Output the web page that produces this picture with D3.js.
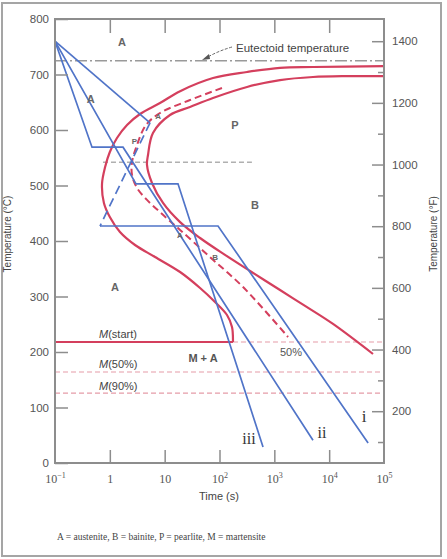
<!DOCTYPE html>
<html><head><meta charset="utf-8">
<script src="https://cdn.jsdelivr.net/npm/d3@7"></script>
<style>body{margin:0;background:#fff}svg{display:block}</style>
</head><body>
<script>
// ---- data ----
const timeTicks = [0.1, 1, 10, 100, 1000, 10000, 100000];
const timeTickLabels = [["10","−1"],["1",""],["10",""],["10","2"],["10","3"],["10","4"],["10","5"]];
const tempTicksC = [0,100,200,300,400,500,600,700,800];
const tempTicksF = [200,400,600,800,1000,1200,1400];
const tempMinorF = [100,300,500,700,900,1100,1300];
// [time (s), temperature (°C)]
const startCurve = [[100000,715],[5070,713.5],[1270,712],[318,704.5],[76.2,693.7],[19.1,670],[8.22,648.6],[3.55,628.8],[2.06,609],[1.35,585.6],[1.0,560.4],[0.82,533.3],[0.72,502.7],[0.78,468.5],[1.0,443.2],[1.53,416.2],[2.88,392.8],[6.67,371.2],[19.1,344.1],[44.2,315.3],[82.8,290.1],[137,266.7],[169,245],[176,218]];
const finishCurve = [[100000,697],[21100,697],[5070,695.5],[1270,690],[318,677.5],[76.2,657.7],[29,641.4],[12.5,627],[6.12,594.6],[4.97,555],[4.76,537],[5.87,504.5],[9.33,468.5],[19.1,434],[44.2,405.4],[126,375],[360,346],[1270,311.7],[3630,283],[11750,250.5],[63000,196.4]];
const halfCurve = [[111,675.7],[29,654],[8.22,630.6],[4.57,609],[3.13,573],[2.54,542],[2.54,519],[3.13,495.5],[4.76,474],[8.22,452],[19.1,420],[67.1,371],[269,317],[1780,227]];
const eutectoidT = 725;
const noseLine = {t0:0.75, t1:390, T:542};
const msStart = {T:218, tEnd:176};
const m50 = 164, m90 = 126;
const pathI = [[0.1,760],[5.41,613]];
const pathIDash = [[5.41,613],[0.662,427]];
const pathI2 = [[0.662,427],[94,427],[51300,36]];
const pathII = [[0.1,760],[0.473,569],[1.74,569],[5070,41]];
const pathIII = [[0.1,760],[3.0,503],[17.5,503],[622,29]];
const regionLabels = [
  {t:1.67,T:759,s:"A",f:11},{t:0.45,T:655,s:"A",f:11},{t:192,T:609,s:"P",f:11},
  {t:445,T:465,s:"B",f:11},{t:1.24,T:317,s:"A",f:11},
  {t:7.6,T:624,s:"A",f:8},{t:2.8,T:580,s:"P",f:8},{t:19,T:410,s:"A",f:8},{t:83,T:370,s:"B",f:8}
];

(function(){
const W=447,H=559, L=55, R=384, T0=19, B=463;
const svg = d3.select("body").append("svg").attr("width",W).attr("height",H)
  .style("font-family","'Liberation Sans',Arial,sans-serif");
const x = d3.scaleLog().domain([0.1,1e5]).range([L,R]);
const y = d3.scaleLinear().domain([0,800]).range([B,T0]);
const yF = d3.scaleLinear().domain([32,1472]).range([B,T0]);
const red="#d43f5d", blue="#5074c8", gray="#8d8d8d", pink="#e59ca8";

svg.append("rect").attr("x",2).attr("y",3).attr("width",439).attr("height",553)
  .attr("fill","none").attr("stroke","#a5a5a5").attr("stroke-width",2);

const line = d3.line().x(d=>x(d[0])).y(d=>y(d[1]));
const smooth = d3.line().x(d=>x(d[0])).y(d=>y(d[1])).curve(d3.curveCatmullRom.alpha(0.5));

svg.append("line").attr("x1",L).attr("x2",R).attr("y1",y(eutectoidT)).attr("y2",y(eutectoidT))
  .attr("stroke","#9a9a9a").attr("stroke-width",1.5).attr("stroke-dasharray","12,3,2,3");
svg.append("line").attr("x1",x(noseLine.t0)).attr("x2",x(noseLine.t1)).attr("y1",y(noseLine.T)).attr("y2",y(noseLine.T))
  .attr("stroke","#b0b0b0").attr("stroke-width",1.5).attr("stroke-dasharray","5,3");
svg.append("line").attr("x1",x(msStart.tEnd)).attr("x2",R).attr("y1",y(msStart.T)).attr("y2",y(msStart.T))
  .attr("stroke",pink).attr("stroke-width",1.2).attr("stroke-dasharray","5,3");
[m50,m90].forEach(v=>svg.append("line").attr("x1",L).attr("x2",R).attr("y1",y(v)).attr("y2",y(v))
  .attr("stroke",pink).attr("stroke-width",1.2).attr("stroke-dasharray","5,3"));

svg.append("path").attr("d",smooth(startCurve)).attr("fill","none").attr("stroke",red).attr("stroke-width",2.2);
svg.append("path").attr("d",smooth(finishCurve)).attr("fill","none").attr("stroke",red).attr("stroke-width",2.2);
svg.append("path").attr("d",smooth(halfCurve)).attr("fill","none").attr("stroke",red).attr("stroke-width",2).attr("stroke-dasharray","7,4");
svg.append("line").attr("x1",L).attr("x2",x(msStart.tEnd)).attr("y1",y(msStart.T)).attr("y2",y(msStart.T))
  .attr("stroke",red).attr("stroke-width",2.2);

[pathI,pathI2,pathII,pathIII].forEach(p=>svg.append("path").attr("d",line(p)).attr("fill","none")
  .attr("stroke",blue).attr("stroke-width",1.7).attr("stroke-linejoin","miter"));
svg.append("path").attr("d",line(pathIDash)).attr("fill","none").attr("stroke",blue)
  .attr("stroke-width",1.7).attr("stroke-dasharray","9,5");

svg.append("rect").attr("x",L).attr("y",T0).attr("width",R-L).attr("height",B-T0)
  .attr("fill","none").attr("stroke",gray).attr("stroke-width",2);

const axCol = g=>{g.select(".domain").remove(); g.selectAll(".tick line").attr("stroke",gray).attr("stroke-width",1.5);
  g.selectAll("text").attr("fill","#555");};
const axL = svg.append("g").attr("transform",`translate(${L},0)`)
  .call(d3.axisLeft(y).tickValues(tempTicksC).tickSize(-13).tickPadding(6).tickFormat(d3.format("d")));
axL.call(axCol); axL.selectAll("text").style("font-size","11.5px");
const axR = svg.append("g").attr("transform",`translate(${R},0)`)
  .call(d3.axisRight(yF).tickValues(tempTicksF).tickSize(-12).tickPadding(8).tickFormat(d3.format("d")));
axR.call(axCol); axR.selectAll("text").style("font-size","11.5px");
const axRm = svg.append("g").attr("transform",`translate(${R},0)`)
  .call(d3.axisRight(yF).tickValues(tempMinorF).tickSize(-6).tickFormat(""));
axRm.call(axCol);
const axT = svg.append("g").attr("transform",`translate(0,${T0})`)
  .call(d3.axisTop(x).tickValues(timeTicks.slice(1,-1)).tickSize(-14).tickFormat(""));
axT.call(axCol);
const axB = svg.append("g").attr("transform",`translate(0,${B})`)
  .call(d3.axisBottom(x).tickValues(timeTicks).tickSize(-13).tickPadding(8).tickFormat(""));
axB.call(axCol);
axB.selectAll(".tick").filter(d=>d===0.1||d===1e5).select("line").remove();
axB.selectAll(".tick").each(function(d,i){
  const lab = timeTickLabels[i];
  const t = d3.select(this).append("text").attr("y",20).attr("fill","#555")
    .attr("text-anchor","middle").style("font-family","'Liberation Serif','Times New Roman',serif").style("font-size","12px");
  t.append("tspan").text(lab[0]);
  if(lab[1]) t.append("tspan").attr("dy",-5).style("font-size","8px").text(lab[1]);
});

svg.append("text").attr("transform","translate(11,234) rotate(-90)").attr("text-anchor","middle")
  .style("font-size","10px").attr("fill","#444").text("Temperature (°C)");
svg.append("text").attr("transform","translate(437,234) rotate(-90)").attr("text-anchor","middle")
  .style("font-size","10px").attr("fill","#444").text("Temperature (°F)");
svg.append("text").attr("x",219).attr("y",500).attr("text-anchor","middle")
  .style("font-size","11px").attr("fill","#444").text("Time (s)");
svg.append("text").attr("x",57).attr("y",540).style("font-family","'Liberation Serif','Times New Roman',serif")
  .style("font-size","9.5px").attr("fill","#444").text("A = austenite, B = bainite, P = pearlite, M = martensite");

svg.append("text").attr("x",236).attr("y",52).style("font-size","11.5px").attr("fill","#444").text("Eutectoid temperature");
svg.append("path").attr("d","M232,47 Q218,51 206,58").attr("fill","none").attr("stroke","#666").attr("stroke-width",1)
  .attr("stroke-dasharray","3,1.5");
svg.append("path").attr("d","M202,60 L209,54 L210,59 Z").attr("fill","#555");

regionLabels.forEach(r=>svg.append("text").attr("x",x(r.t)).attr("y",y(r.T)).attr("text-anchor","middle")
  .attr("dy","0.35em").style("font-size",r.f+"px").style("font-weight","bold").attr("fill","#666").text(r.s));
svg.append("text").attr("x",203).attr("y",362).attr("text-anchor","middle").style("font-size","11px")
  .style("font-weight","bold").attr("fill","#555").text("M + A");
svg.append("text").attr("x",291).attr("y",356).attr("text-anchor","middle").style("font-size","11px").attr("fill","#555").text("50%");
const mlab = [[msStart.T,"(start)",4],[m50,"(50%)",4],[m90,"(90%)",3]];
mlab.forEach(m=>{const t=svg.append("text").attr("x",99).attr("y",y(m[0])-m[2]).style("font-size","11px").attr("fill","#444");
  t.append("tspan").style("font-style","italic").text("M"); t.append("tspan").text(m[1]);});

const serif="'Liberation Serif','Times New Roman',serif";
svg.append("text").attr("x",364).attr("y",422).attr("text-anchor","middle").style("font-family",serif).style("font-size","17px").attr("fill","#333").text("i");
svg.append("text").attr("x",322).attr("y",438).attr("text-anchor","middle").style("font-family",serif).style("font-size","16px").attr("fill","#333").text("ii");
svg.append("text").attr("x",249).attr("y",444).attr("text-anchor","middle").style("font-family",serif).style("font-size","16px").attr("fill","#333").text("iii");
})();
</script>
</body></html>
